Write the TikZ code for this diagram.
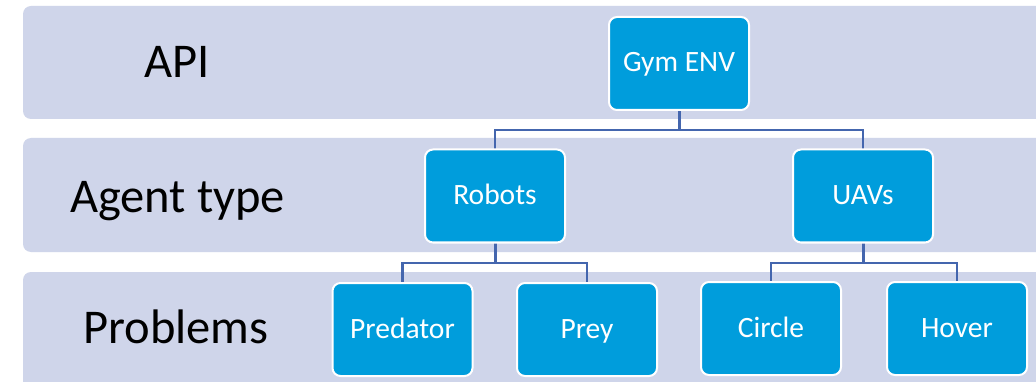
\documentclass[tikz,border=0pt]{standalone}
\usepackage{fontspec}
\setmainfont{Carlito}
\definecolor{bandc}{HTML}{CFD5EA}
\definecolor{boxc}{HTML}{009DDC}
\definecolor{connc}{HTML}{4466AE}
\begin{document}
\begin{tikzpicture}[x=1pt,y=-1pt,
  band/.style={fill=bandc,draw=none,rounded corners=8pt},
  lvl/.style={anchor=base,font=\fontsize{48.5}{52}\selectfont,text=black,inner sep=0pt},
  box/.style={fill=boxc,draw=white,line width=2pt,rounded corners=8pt,
    minimum width=140pt,minimum height=93pt,inner sep=0pt,text=white,
    font=\fontsize{29.5}{32}\selectfont,text height=19pt,text depth=2pt},
  conn/.style={draw=connc,line width=2.2pt},
  stem/.style={draw=connc,line width=3pt}]
\useasboundingbox (0,0) rectangle (1036,382);
\clip (0,0) rectangle (1036,382);
\fill[white] (0,0) rectangle (1036,382);
% bands
\path[band] (23,6) rectangle (1060,119);
\path[band] (23,138) rectangle (1060,252);
\path[band] (23,272) rectangle (1060,400);
% level labels
\node[lvl] (lapi) at (177,78) {API};
\node[lvl] (lagent) at (177.5,213) {Agent type};
\node[lvl] (lprob) at (176,343) {Problems};
% boxes (positions)
\coordinate (pgym) at (679,63.5);
\coordinate (prob) at (495,196);
\coordinate (puav) at (863,196);
\coordinate (ppred) at (402.5,329.5);
\coordinate (pprey) at (587,329.5);
\coordinate (pcirc) at (771,328.5);
\coordinate (phov) at (957,328.5);
% junctions
\coordinate (j1) at (679,130);
\coordinate (j2) at (495,263);
\coordinate (j3) at (863,263);
% connectors
\draw[stem] (pgym) -- (j1);
\draw[conn] (prob) |- (j1) -| (puav);
\draw[stem] (prob) -- (j2);
\draw[conn] (ppred) |- (j2) -| (pprey);
\draw[stem] (puav) -- (j3);
\draw[conn] (pcirc) |- (j3) -| (phov);
% nodes
\node[box] (gym) at (pgym) {Gym ENV};
\node[box] (robots) at (prob) {Robots};
\node[box] (uavs) at (puav) {UAVs};
\node[box] (pred) at (ppred) {Predator};
\node[box] (prey) at (pprey) {Prey};
\node[box] (circ) at (pcirc) {Circle};
\node[box] (hov) at (phov) {Hover};
\end{tikzpicture}
\end{document}
